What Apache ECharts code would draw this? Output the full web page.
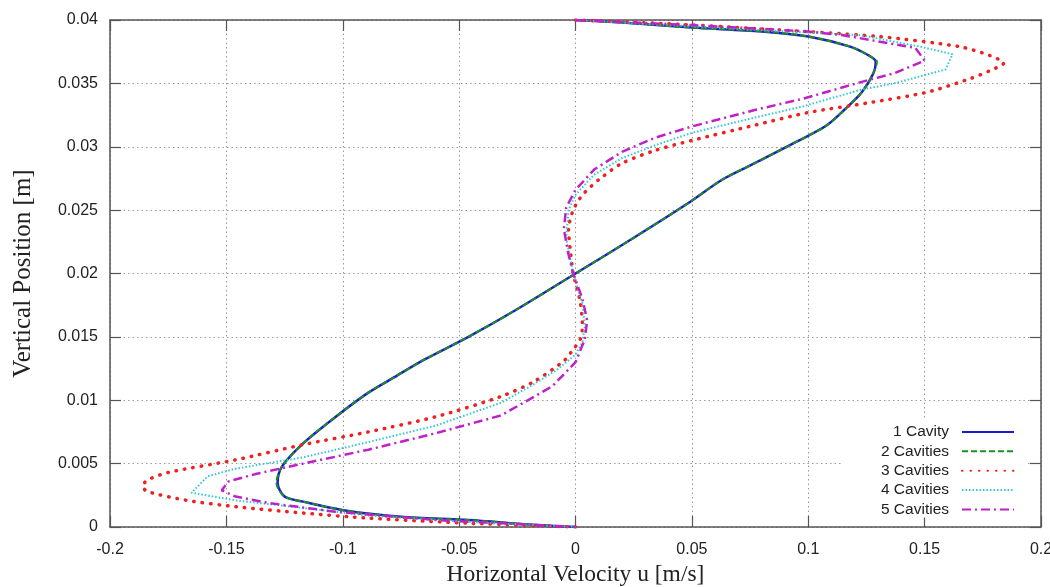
<!DOCTYPE html>
<html>
<head>
<meta charset="utf-8">
<script src="https://cdn.jsdelivr.net/npm/echarts@6/dist/echarts.min.js"></script>
<style>
html,body{margin:0;padding:0;background:#fff;}
#chart{width:1050px;height:587px;}
</style>
</head>
<body>
<div id="chart"></div>
<script>
// ---- data: [u (m/s), y (m)] ----
const seriesNames = ['1 Cavity', '2 Cavities', '3 Cavities', '4 Cavities', '5 Cavities'];

const cavity1 = [[0,0.04],[0.02,0.0398],[0.05,0.0394],[0.08,0.0391],[0.10,0.0387],[0.118,0.0379],[0.126,0.0372],[0.129,0.0367],[0.128,0.0358],[0.123,0.0343],[0.116,0.033],[0.108,0.0317],[0.095,0.0304],[0.077,0.0287],[0.063,0.0274],[0.048,0.0255],[0.024,0.0227],[0,0.02],[-0.024,0.0173],[-0.046,0.015],[-0.065,0.0132],[-0.078,0.0118],[-0.089,0.0106],[-0.103,0.0087],[-0.117,0.0066],[-0.126,0.0048],[-0.128,0.0035],[-0.125,0.0024],[-0.117,0.002],[-0.099,0.0013],[-0.075,0.0008],[-0.046,0.00055],[-0.02,0.0002],[0,0]];

const cavity2 = [[0,0.04],[0.02,0.0398],[0.05,0.0394],[0.08,0.0391],[0.10,0.0387],[0.118,0.0379],[0.126,0.0372],[0.1295,0.0367],[0.128,0.0358],[0.123,0.0343],[0.116,0.033],[0.108,0.0317],[0.095,0.0304],[0.077,0.0287],[0.063,0.0274],[0.048,0.0255],[0.024,0.0227],[0,0.02],[-0.024,0.0173],[-0.046,0.015],[-0.065,0.0132],[-0.078,0.0118],[-0.089,0.0106],[-0.103,0.0087],[-0.117,0.0066],[-0.126,0.0048],[-0.1285,0.0035],[-0.125,0.0024],[-0.117,0.002],[-0.099,0.0013],[-0.075,0.0008],[-0.046,0.00055],[-0.02,0.0002],[0,0]];

const cavity3 = [[0,0.04],[0.04,0.0397],[0.08,0.0393],[0.13,0.0387],[0.165,0.0379],[0.178,0.0372],[0.184,0.0366],[0.178,0.036],[0.17,0.0354],[0.151,0.0343],[0.127,0.0335],[0.10,0.0327],[0.077,0.0317],[0.05,0.0305],[0.034,0.0297],[0.02,0.0287],[0.01,0.0274],[0.003,0.0262],[-0.001,0.025],[-0.003,0.0235],[-0.002,0.0215],[-0.001,0.02],[0.002,0.0178],[0.003,0.0158],[0.002,0.0148],[-0.001,0.014],[-0.005,0.0131],[-0.0176,0.0115],[-0.032,0.0103],[-0.06,0.0087],[-0.089,0.0075],[-0.117,0.0065],[-0.146,0.0053],[-0.175,0.0043],[-0.184,0.0037],[-0.186,0.0032],[-0.184,0.0028],[-0.167,0.0021],[-0.146,0.0016],[-0.117,0.0011],[-0.089,0.0007],[-0.046,0.0003],[0,0]];

const cavity4 = [[0,0.04],[0.05,0.0395],[0.08,0.0392],[0.1226,0.0388],[0.148,0.0379],[0.162,0.0373],[0.159,0.0361],[0.137,0.035],[0.1226,0.0345],[0.098,0.0332],[0.077,0.0323],[0.05,0.0311],[0.034,0.0301],[0.02,0.0291],[0.008,0.0278],[0,0.0262],[-0.003,0.025],[-0.004,0.0228],[-0.001,0.02],[0.003,0.0176],[0.004,0.0158],[0.003,0.0146],[0,0.0136],[-0.008,0.0124],[-0.0176,0.0113],[-0.032,0.0098],[-0.06,0.008],[-0.089,0.0067],[-0.117,0.0055],[-0.146,0.0046],[-0.158,0.004],[-0.165,0.0027],[-0.146,0.0021],[-0.117,0.0015],[-0.089,0.0009],[-0.046,0.0004],[0,0]];

const cavity5 = [[0,0.04],[0.05,0.0396],[0.0997,0.0391],[0.115,0.0388],[0.146,0.0378],[0.150,0.0368],[0.137,0.0358],[0.1226,0.0351],[0.098,0.0338],[0.077,0.0329],[0.05,0.0316],[0.034,0.0307],[0.02,0.0296],[0.008,0.0282],[0,0.0266],[-0.004,0.0252],[-0.005,0.0235],[-0.003,0.0215],[-0.001,0.02],[0.003,0.018],[0.005,0.0163],[0.004,0.0148],[0,0.013],[-0.01,0.0111],[-0.0176,0.0103],[-0.032,0.0088],[-0.06,0.0074],[-0.089,0.0061],[-0.117,0.005],[-0.137,0.0042],[-0.149,0.0036],[-0.152,0.0029],[-0.146,0.0024],[-0.132,0.0019],[-0.103,0.0012],[-0.06,0.00055],[0,0]];

// ---- axis ticks ----
const xMin = -0.2, xMax = 0.2, xStep = 0.05;
const yMin = 0, yMax = 0.04, yStep = 0.005;
const xTitle = 'Horizontal Velocity u [m/s]';
const yTitle = 'Vertical Position [m]';

const chart = echarts.init(document.getElementById('chart'), null, {renderer: 'canvas'});

const axisColor = '#555';
const sans = 'Liberation Sans, Arial, sans-serif';
const serif = 'Liberation Serif, Times New Roman, serif';

const styles = [
  {color: '#1a1ad6', width: 2.5, type: 'solid', cap: 'butt', smooth: 0.3},
  {color: '#1f8f1f', width: 2, type: [6, 3], cap: 'butt', smooth: 0.3},
  {color: '#f02020', width: 3.5, type: [0.5, 8], cap: 'round', smooth: 0.25},
  {color: '#30c8d0', width: 2, type: [1.5, 2], cap: 'butt', smooth: false},
  {color: '#c020c8', width: 2.5, type: [9, 4, 2, 4], cap: 'butt', smooth: false}
];
const datasets = [cavity1, cavity2, cavity3, cavity4, cavity5];

const option = {
  backgroundColor: '#fff',
  animation: false,
  grid: {left: 110, right: 9, top: 20, bottom: 60, containLabel: false, outerBoundsMode: 'none'},
  legend: {
    orient: 'vertical',
    right: 23,
    bottom: 69.5,
    align: 'right',
    itemWidth: 52,
    itemHeight: 14,
    itemGap: 3.4,
    padding: [6, 12, 0, 40],
    backgroundColor: '#fff',
    itemStyle: {opacity: 0},
    textStyle: {fontFamily: sans, fontSize: 15.5, color: '#222', padding: [0, 8, 0, 0]},
    data: seriesNames
  },
  xAxis: [
    {
      type: 'value', position: 'bottom', min: xMin, max: xMax, interval: xStep,
      name: xTitle, nameLocation: 'middle', nameGap: 36,
      nameTextStyle: {fontFamily: serif, fontSize: 23.5, color: '#222'},
      axisLine: {show: true, onZero: false, lineStyle: {color: axisColor, width: 1.5}},
      axisTick: {show: true, inside: true, length: 11, lineStyle: {color: axisColor, width: 1.2}},
      axisLabel: {fontFamily: sans, fontSize: 16, color: '#222', margin: 15},
      splitLine: {show: true, lineStyle: {color: '#9a9a9a', width: 1, type: [1.5, 3]}}
    },
    {
      type: 'value', position: 'top', min: xMin, max: xMax, interval: xStep,
      axisLine: {show: true, onZero: false, lineStyle: {color: axisColor, width: 1.5}},
      axisTick: {show: true, inside: true, length: 11, lineStyle: {color: axisColor, width: 1.2}},
      axisLabel: {show: false},
      splitLine: {show: false}
    }
  ],
  yAxis: [
    {
      type: 'value', position: 'left', min: yMin, max: yMax, interval: yStep,
      name: yTitle, nameLocation: 'middle', nameGap: 74,
      nameTextStyle: {fontFamily: serif, fontSize: 25, color: '#222'},
      axisLine: {show: true, onZero: false, lineStyle: {color: axisColor, width: 1.5}},
      axisTick: {show: true, inside: true, length: 11, lineStyle: {color: axisColor, width: 1.2}},
      axisLabel: {fontFamily: sans, fontSize: 16, color: '#222', margin: 12},
      splitLine: {show: true, lineStyle: {color: '#9a9a9a', width: 1, type: [1.5, 3]}}
    },
    {
      type: 'value', position: 'right', min: yMin, max: yMax, interval: yStep,
      axisLine: {show: true, onZero: false, lineStyle: {color: axisColor, width: 1.5}},
      axisTick: {show: true, inside: true, length: 11, lineStyle: {color: axisColor, width: 1.2}},
      axisLabel: {show: false},
      splitLine: {show: false}
    }
  ],
  series: datasets.map((d, i) => ({
    name: seriesNames[i],
    type: 'line',
    xAxisIndex: 0,
    yAxisIndex: 0,
    data: d,
    symbol: 'none',
    smooth: styles[i].smooth,
    z: 2 + i,
    lineStyle: {color: styles[i].color, width: styles[i].width, type: styles[i].type, cap: styles[i].cap},
    itemStyle: {color: styles[i].color}
  }))
};

chart.setOption(option);
</script>
</body>
</html>
